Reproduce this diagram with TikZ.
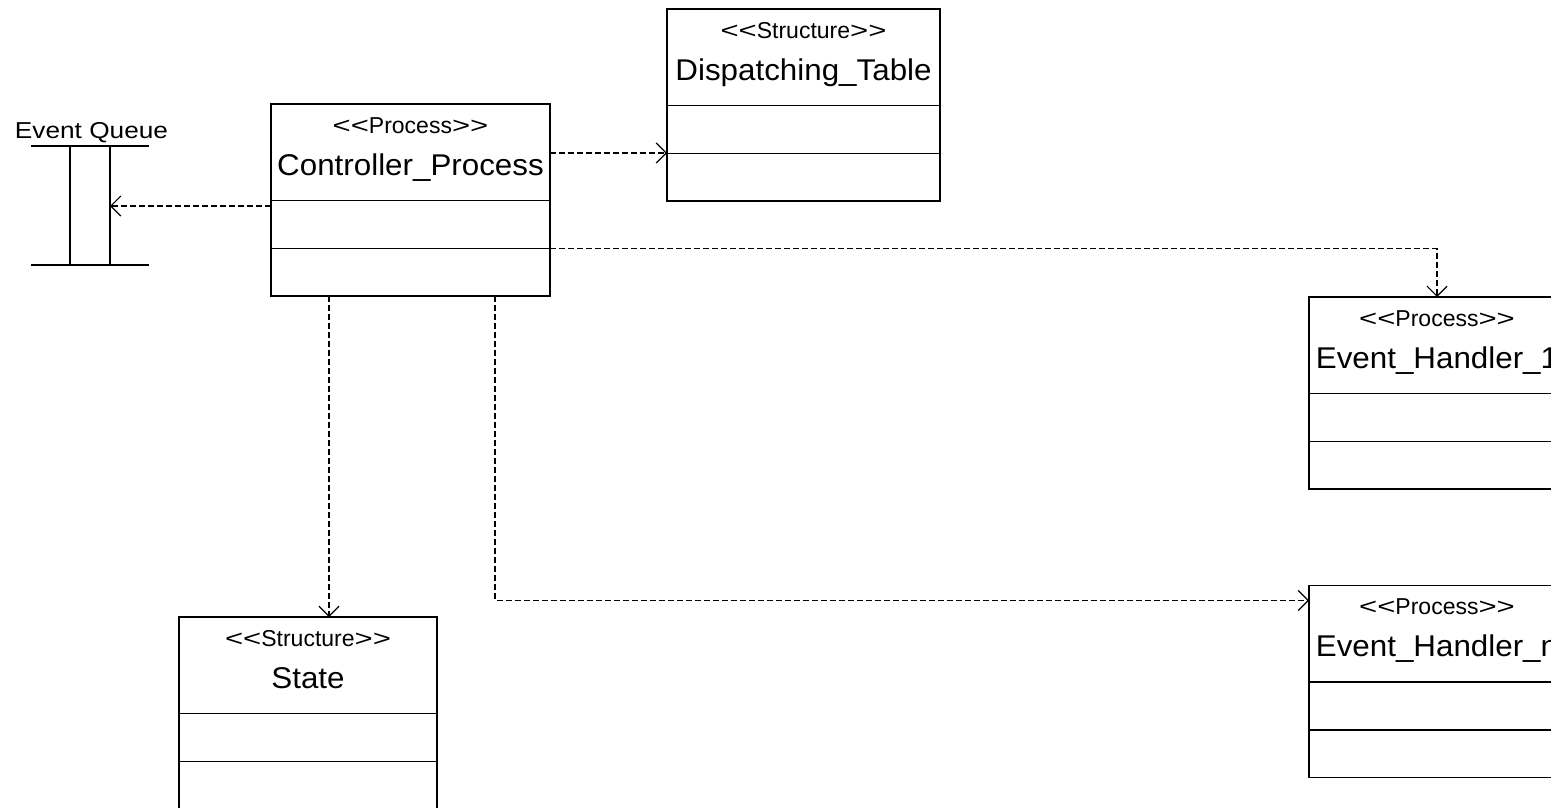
\documentclass[tikz,border=0pt]{standalone}
\usepackage{graphicx}
\usepackage{fontspec}
\usetikzlibrary{arrows.meta}
\newfontfamily\titlefont[FakeStretch=1.045,Ligatures=TeXOff]{Liberation Sans}
\newfontfamily\stereofont[Ligatures=TeXOff]{Liberation Sans}
\newfontfamily\labelfont[FakeStretch=1.14,Ligatures=TeXOff]{Liberation Sans}

% wide guillemet-style chevrons of a stereotype
\newcommand\stchev[1]{\scalebox{1.35}[1]{#1}}
\newcommand\stereotype[1]{\stchev{<}\stchev{<}#1\stchev{>}\stchev{>}}

% two horizontal compartment rules inside a class box
\newcommand\compartments[1]{%
  \draw[rule] ([yshift=-96.5pt]#1.north west) -- ([yshift=-96.5pt]#1.north east);
  \draw[rule] ([yshift=-144.5pt]#1.north west) -- ([yshift=-144.5pt]#1.north east);
}
% stereotype and name of a class box
\newcommand\classtext[3]{%
  \node[stereo] (#1-s) at ([yshift=-29pt]#1.north) {\stereotype{#2}};
  \node[title]  (#1-t) at ([yshift=-71pt]#1.north) {#3};
}

\begin{document}
\begin{tikzpicture}[x=1pt,y=-1pt,
  classbox/.style={draw, line width=1.8pt, inner sep=0pt, outer sep=0pt,
    minimum width=#1, minimum height=192pt},
  rule/.style={line width=1.8pt},
  stereo/.style={anchor=base, inner sep=0pt, font=\stereofont\fontsize{23}{23}\selectfont},
  title/.style={anchor=base, inner sep=0pt, font=\titlefont\fontsize{30}{30}\selectfont},
  qlabel/.style={anchor=base, inner sep=0pt, font=\labelfont\fontsize{23}{23}\selectfont},
  qline/.style={line width=2.4pt},
  dep/.style={line width=1.2pt, dash pattern=on 6pt off 3pt,
    -{Straight Barb[length=10pt,width=20pt,line width=1.2pt]}},
]
\useasboundingbox (0,0) rectangle (1551,807);
\clip (0,0) rectangle (1551,807);

% class boxes
\node[classbox=279pt] (ctrl)  at (410.5,200) {};
\node[classbox=273pt] (disp)  at (803.5,105) {};
\node[classbox=256pt] (eh1)   at (1437,393)  {};
\node[classbox=256pt] (ehn)   at (1437,681.5) {};
\node[classbox=258pt] (state) at (308,713)   {};
\foreach \b in {ctrl,disp,eh1,ehn,state} {\compartments{\b}}

% stereotypes and names
\classtext{ctrl}{Process}{Controller\_Process}
\classtext{disp}{Structure}{Dispatching\_Table}
\classtext{eh1}{Process}{Event\_Handler\_1}
\classtext{ehn}{Process}{Event\_Handler\_n}
\classtext{state}{Structure}{State}

% event queue symbol
\node[inner sep=0pt, outer sep=0pt, minimum width=40pt, minimum height=119pt] (queue) at (90,205.5) {};
\draw[qline] (queue.north west) -- (queue.south west);
\draw[qline] (queue.north east) -- (queue.south east);
\draw[qline] ([xshift=-39pt]queue.north west) -- ([xshift=39pt]queue.north east);
\draw[qline] ([xshift=-39pt]queue.south west) -- ([xshift=39pt]queue.south east);
\node[qlabel] (queue-l) at (91.5,138) {Event Queue};

% dependencies
\coordinate (c-q) at ([yshift=-102pt]ctrl.north west);
\coordinate (c-d) at ([yshift=-49pt]ctrl.north east);
\coordinate (c-s) at ([xshift=58pt]ctrl.south west);
\coordinate (c-n) at ([xshift=224pt]ctrl.south west);
\draw[dep] (c-q) -- (queue.east |- c-q);
\draw[dep] (c-d) -- (disp.west |- c-d);
\draw[dep] ([yshift=-144.5pt]ctrl.north east) -| (eh1.north);
\draw[dep] (c-s) -- (c-s |- state.north);
\draw[dep] (c-n) |- ([yshift=-15pt]ehn.north west);
\end{tikzpicture}
\end{document}
